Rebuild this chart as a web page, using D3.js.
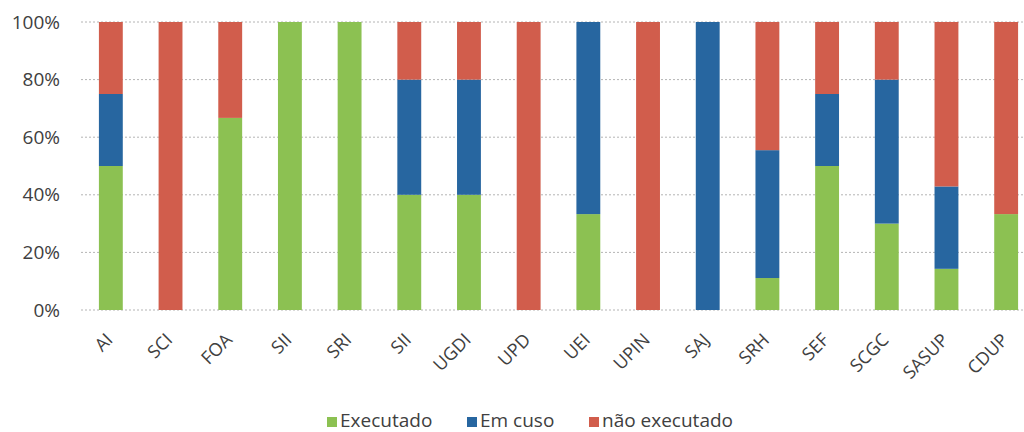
<!DOCTYPE html>
<html><head><meta charset="utf-8">
<script src="https://cdn.jsdelivr.net/npm/d3@7"></script>
<style>body{margin:0;background:#fff}svg{display:block}</style>
</head><body>
<svg id="c" width="1024" height="432"></svg>
<script>
const categories = ["AI","SCI","FOA","SII","SRI","SII ","UGDI","UPD","UEI","UPIN","SAJ","SRH","SEF","SCGC","SASUP","CDUP"];
const executado    = [50, 0, 66.7, 100, 100, 40, 40, 0, 33.3, 0, 0, 11.1, 50, 30, 14.3, 33.3];
const emCurso      = [25, 0, 0, 0, 0, 40, 40, 0, 66.7, 0, 100, 44.4, 25, 50, 28.6, 0];
const naoExecutado = [25, 100, 33.3, 0, 0, 20, 20, 100, 0, 100, 0, 44.5, 25, 20, 57.1, 66.7];
const seriesNames = ["Executado","Em cuso","não executado"];
const colors = ["#8cc152","#2766a0","#d15d4c"];
const yTicks = [0,20,40,60,80,100];

const svg = d3.select("#c");
const font = "'Open Sans', 'Liberation Sans', sans-serif";
const x = d3.scaleBand().domain(d3.range(categories.length)).range([81, 1036]).paddingInner(0.6).paddingOuter(0.3);
const y = d3.scaleLinear().domain([0,100]).range([310, 22]);

// gridlines
svg.append("g").selectAll("line").data(yTicks).join("line")
  .attr("x1", 81).attr("x2", 1024)
  .attr("y1", d => y(d)).attr("y2", d => y(d))
  .attr("stroke", "#b4b4b4").attr("stroke-width", 1).attr("stroke-dasharray", "2,2");

const rows = categories.map((c,i) => ({i, Executado: executado[i], "Em cuso": emCurso[i], "não executado": naoExecutado[i]}));
const stack = d3.stack().keys(seriesNames)(rows);
svg.append("g").selectAll("g").data(stack).join("g")
  .attr("fill", (d,k) => colors[k])
  .selectAll("rect").data(d => d).join("rect")
  .attr("x", d => x(d.data.i)).attr("width", x.bandwidth())
  .attr("y", d => y(d[1])).attr("height", d => y(d[0]) - y(d[1]));

// y axis labels
const yAxis = svg.append("g").attr("transform", "translate(60,0)")
  .call(d3.axisLeft(y).tickValues(yTicks).tickFormat(d => d + "%").tickSize(0).tickPadding(0));
yAxis.select(".domain").remove();
yAxis.selectAll("text").attr("font-family", font).attr("font-size", 19).attr("fill", "#404040");

// x labels
svg.append("g").selectAll("text").data(categories).join("text")
  .attr("transform", (d,i) => `translate(${x(i) + x.bandwidth()/2 + 3},${341}) rotate(-45)`)
  .attr("text-anchor", "end")
  .attr("font-family", font).attr("font-size", 18).attr("fill", "#404040")
  .text(d => d.trim());

// legend
const legX = [327, 467, 589];
const leg = svg.append("g").selectAll("g").data(seriesNames).join("g")
  .attr("transform", (d,i) => `translate(${legX[i]},427)`);
leg.append("rect").attr("x", 0).attr("y", -10).attr("width", 10).attr("height", 10).attr("fill", (d,i) => colors[i]);
leg.append("text").attr("x", 13).attr("y", 0)
  .attr("font-family", font).attr("font-size", 19).attr("fill", "#404040").text(d => d);
</script>
</body></html>
